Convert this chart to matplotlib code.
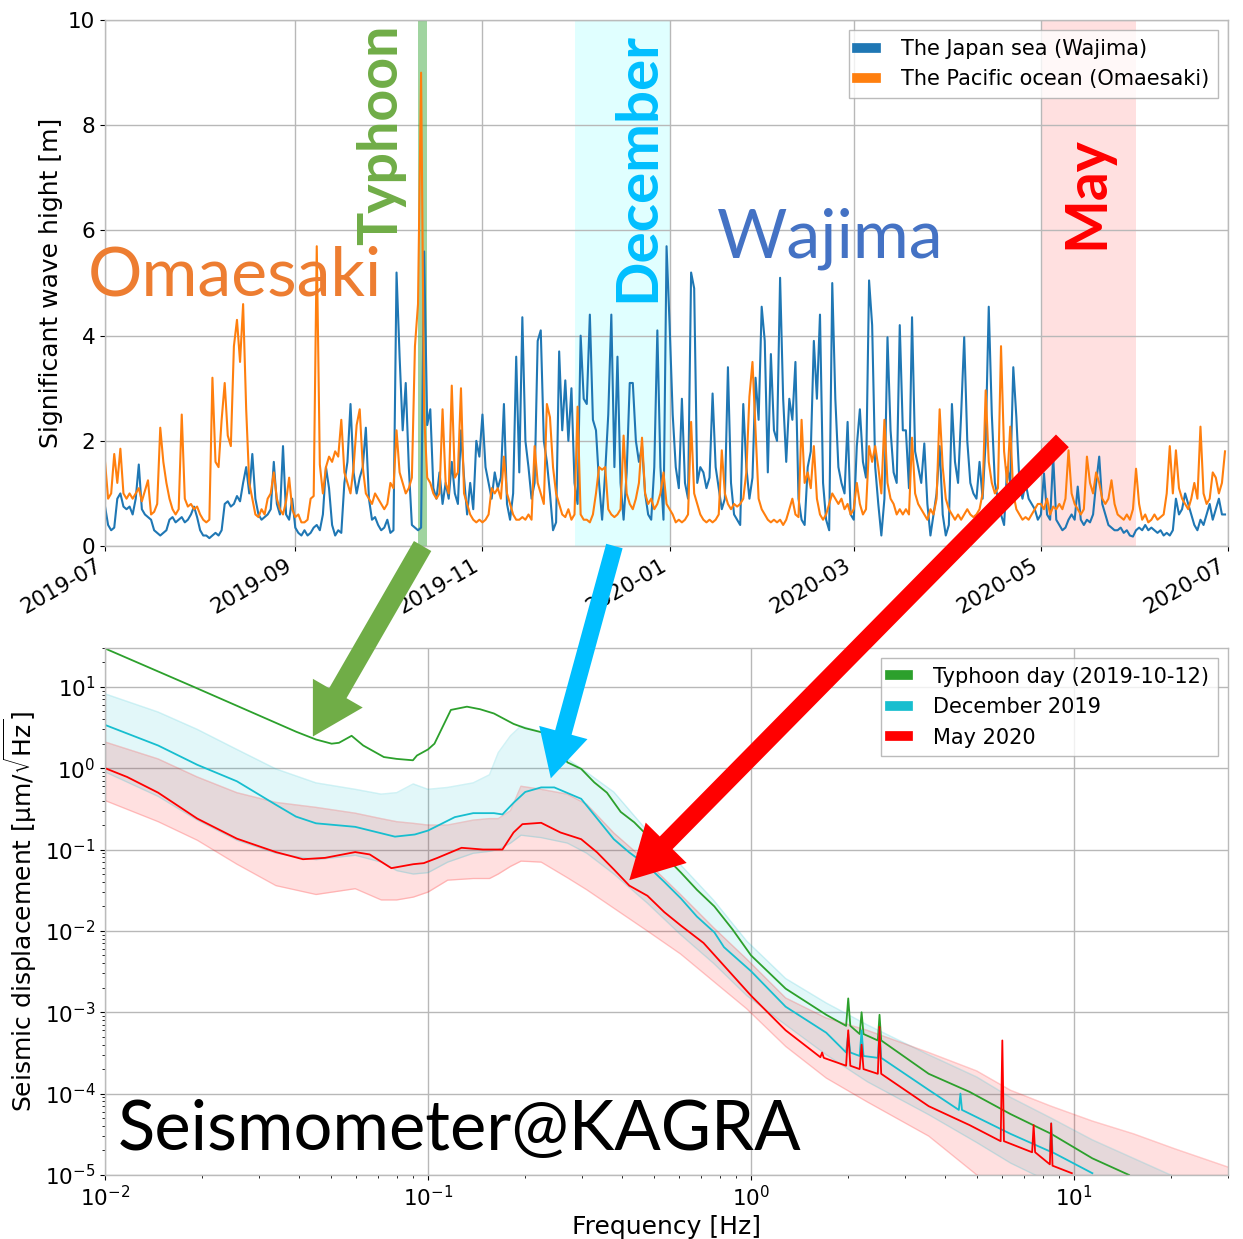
import matplotlib
matplotlib.use("Agg")
import matplotlib.pyplot as plt
import matplotlib.dates as mdates
from matplotlib.patches import FancyArrowPatch
import pandas as pd

plt.rcParams.update({
    "font.family": "DejaVu Sans",
    "font.size": 15,
    "axes.edgecolor": "#bbbbbb",
    "axes.linewidth": 1.0,
    "grid.color": "#b8b8b8",
    "grid.linewidth": 1.0,
    "xtick.labelsize": 15.5,
    "ytick.labelsize": 15.5,
    "axes.labelsize": 18,
    "legend.fontsize": 15,
})

OVERLAY_FONT = ["Lato", "DejaVu Sans"]

# ---------------------------------------------------------------------------
# Daily significant wave height [m], 2019-07-01 .. 2020-06-30
# ---------------------------------------------------------------------------
wajima_jul = [0.75, 0.4, 0.3, 0.35, 0.9, 1.0, 0.75, 0.7, 0.75, 0.6, 0.9, 1.55, 0.7, 0.6, 0.55, 0.5,
              0.3, 0.25, 0.2, 0.25, 0.3, 0.5, 0.55, 0.45, 0.5, 0.55, 0.45, 0.5, 0.6, 0.75, 0.55]
wajima_aug = [0.3, 0.2, 0.2, 0.15, 0.2, 0.25, 0.2, 0.3, 0.8, 0.85, 0.75, 0.8, 0.95, 0.85, 1.2, 1.5,
              1.0, 1.75, 0.9, 0.6, 0.5, 0.55, 0.6, 0.7, 1.6, 0.8, 0.6, 1.9, 0.6, 0.5, 0.9]
wajima_sep = [0.35, 0.25, 0.2, 0.3, 0.2, 0.25, 0.35, 0.4, 0.3, 0.6, 1.5, 1.1, 0.4, 0.2, 0.3,
              0.25, 1.2, 1.6, 2.7, 1.4, 1.0, 1.3, 1.5, 2.25, 0.9, 0.5, 0.55, 0.4, 0.3, 0.35]
wajima_oct = [0.5, 0.25, 0.3, 5.2, 3.6, 2.2, 3.1, 1.5, 0.4, 0.35, 0.3, 0.35, 5.6, 2.3, 2.6, 1.1,
              0.9, 1.4, 0.8, 1.2, 0.9, 1.6, 1.0, 0.8, 2.2, 1.3, 0.6, 1.2, 0.7, 2.0, 1.7]
wajima_nov = [2.5, 1.5, 1.2, 0.9, 1.4, 1.1, 1.3, 2.7, 0.8, 0.5, 1.0, 3.6, 1.4, 4.35, 2.0,
              1.5, 0.9, 1.2, 3.9, 4.1, 2.0, 1.6, 1.0, 0.3, 0.45, 3.7, 2.2, 3.15, 2.0, 3.0]
wajima_dec = [1.2, 0.8, 4.0, 2.8, 2.7, 4.4, 2.4, 2.2, 1.2, 0.5, 1.4, 2.5, 4.4, 1.5, 3.6, 1.2,
              0.5, 1.4, 3.1, 3.1, 2.0, 1.6, 1.9, 1.0, 0.6, 0.5, 1.5, 4.1, 1.5, 0.5, 5.7]
wajima_jan = [4.2, 2.5, 1.5, 1.1, 2.8, 1.2, 0.9, 5.2, 4.9, 1.2, 1.5, 1.4, 1.1, 1.3, 2.9, 1.5,
              1.1, 0.7, 0.9, 3.4, 1.2, 0.6, 0.5, 0.4, 2.7, 1.5, 0.9, 1.3, 3.2, 2.4, 4.55]
wajima_feb = [3.9, 1.4, 3.65, 2.2, 2.0, 5.1, 2.8, 1.6, 2.8, 2.4, 3.5, 0.9, 0.5, 0.4, 1.5,
              1.8, 3.9, 2.8, 4.4, 1.2, 0.5, 0.3, 5.0, 2.8, 1.5, 1.2, 1.0, 2.36, 0.6]
wajima_mar = [0.5, 1.9, 2.6, 1.6, 1.3, 5.05, 4.2, 1.5, 0.8, 0.2, 0.9, 3.97, 2.2, 1.4, 1.2, 4.2,
              2.2, 2.2, 1.1, 4.35, 1.8, 1.5, 1.2, 1.95, 0.8, 0.2, 0.6, 1.0, 1.9, 0.6, 0.2]
wajima_apr = [0.4, 2.7, 1.6, 1.2, 2.5, 3.97, 2.0, 1.2, 1.0, 0.9, 1.6, 0.9, 2.0, 4.55, 2.5,
              1.2, 0.9, 0.6, 0.4, 1.5, 1.2, 3.4, 2.45, 1.2, 0.9, 1.2, 0.9, 0.8, 0.7, 0.5]
wajima_may = [0.6, 1.38, 0.6, 0.5, 1.7, 0.5, 0.4, 0.3, 0.35, 0.5, 0.6, 0.5, 1.13, 0.5, 0.4, 0.5,
              0.45, 0.6, 1.2, 1.7, 0.8, 0.6, 0.4, 0.35, 0.3, 0.3, 0.35, 0.25, 0.3, 0.2, 0.18]
wajima_jun = [0.3, 0.35, 0.3, 0.4, 0.3, 0.35, 0.3, 0.25, 0.3, 0.2, 0.25, 0.2, 0.3, 0.9, 0.6,
              0.7, 1.0, 0.8, 0.6, 0.4, 0.3, 0.5, 0.4, 0.6, 0.8, 0.5, 0.7, 0.9, 0.6, 0.6]

omaesaki_jul = [1.6, 0.9, 1.0, 1.75, 1.2, 1.85, 1.0, 0.9, 1.0, 0.9, 1.0, 1.1, 0.85, 1.05, 1.25, 0.6,
                0.65, 0.8, 2.25, 1.6, 1.2, 0.9, 0.7, 0.6, 0.7, 2.5, 0.9, 0.75, 0.8, 0.7, 0.75]
omaesaki_aug = [0.6, 0.5, 0.45, 0.5, 3.2, 1.6, 1.5, 2.4, 3.1, 2.1, 1.9, 3.8, 4.3, 3.5, 4.6, 2.6,
                1.2, 0.9, 0.6, 0.55, 0.7, 0.6, 0.9, 1.0, 1.4, 0.9, 0.7, 0.6, 0.85, 1.3, 0.7]
omaesaki_sep = [0.55, 0.6, 0.45, 0.45, 0.5, 0.9, 0.95, 5.7, 1.55, 1.0, 1.5, 1.7, 1.6, 1.8, 1.7,
                2.4, 1.4, 1.2, 1.0, 1.5, 2.3, 2.6, 1.5, 1.0, 0.9, 0.8, 1.0, 0.9, 0.8, 0.7]
omaesaki_oct = [0.8, 1.2, 1.1, 2.2, 1.4, 1.2, 1.0, 1.1, 1.3, 3.8, 4.6, 9.0, 2.5, 1.3, 1.2, 1.0,
                0.9, 1.0, 2.6, 1.2, 1.0, 3.05, 1.3, 1.4, 3.0, 1.0, 0.8, 0.6, 0.5, 0.45, 0.5]
omaesaki_nov = [0.45, 0.5, 0.6, 1.1, 1.0, 1.1, 0.9, 1.7, 1.0, 0.8, 0.6, 0.5, 0.5, 0.55, 0.5,
                0.6, 0.5, 1.9, 1.2, 1.0, 0.8, 2.7, 2.45, 1.5, 1.0, 0.8, 0.6, 0.55, 0.7, 0.5]
omaesaki_dec = [0.6, 2.65, 0.6, 0.5, 0.5, 0.45, 0.6, 1.0, 1.5, 1.45, 1.5, 0.7, 0.6, 0.55, 0.6, 0.7,
                2.1, 1.0, 0.8, 0.7, 0.9, 1.2, 2.06, 1.0, 0.8, 0.9, 0.7, 0.8, 1.0, 1.4, 0.8]
omaesaki_jan = [0.7, 0.6, 0.45, 0.5, 0.45, 0.5, 0.6, 2.36, 1.0, 0.8, 0.6, 0.5, 0.45, 0.5, 0.45, 0.5,
                0.6, 1.82, 1.0, 0.8, 0.7, 0.8, 0.75, 0.8, 0.9, 1.4, 2.84, 3.5, 2.2, 0.9, 0.7]
omaesaki_feb = [0.6, 0.5, 0.45, 0.5, 0.45, 0.5, 0.4, 0.5, 0.7, 0.9, 0.6, 0.55, 2.4, 1.2, 1.4,
                1.1, 1.9, 0.9, 0.6, 0.5, 0.6, 0.8, 1.0, 0.9, 0.8, 0.9, 0.7, 0.8, 0.6]
omaesaki_mar = [0.7, 1.2, 0.8, 0.6, 0.7, 1.9, 1.6, 1.9, 1.5, 1.0, 2.4, 1.2, 0.9, 0.8, 0.6, 0.7,
                0.6, 0.7, 0.6, 2.06, 1.0, 0.8, 0.7, 0.6, 0.5, 0.7, 0.6, 0.9, 2.6, 1.5, 0.9]
omaesaki_apr = [0.7, 0.6, 0.5, 0.6, 0.5, 0.6, 0.7, 0.6, 0.55, 0.6, 0.7, 1.0, 2.96, 1.6, 1.2,
                1.0, 1.1, 3.8, 1.8, 1.2, 2.27, 1.0, 0.7, 0.6, 0.5, 0.55, 0.5, 0.6, 0.7, 0.8]
omaesaki_may = [0.8, 0.7, 0.9, 0.6, 0.75, 0.7, 0.8, 0.7, 0.9, 1.82, 1.0, 0.8, 0.7, 0.6, 0.7, 1.7,
                1.2, 1.0, 1.4, 1.2, 0.9, 0.8, 0.9, 1.25, 0.8, 0.6, 0.55, 0.5, 0.6, 0.5, 0.7]
omaesaki_jun = [1.47, 0.8, 0.5, 0.6, 0.45, 0.5, 0.6, 0.5, 0.55, 0.6, 1.0, 1.9, 1.0, 1.82, 1.1,
                0.9, 0.8, 0.7, 0.9, 1.2, 0.9, 2.27, 1.0, 0.8, 0.9, 1.4, 1.3, 1.0, 1.2, 1.8]

wajima = (wajima_jul + wajima_aug + wajima_sep + wajima_oct + wajima_nov + wajima_dec
          + wajima_jan + wajima_feb + wajima_mar + wajima_apr + wajima_may + wajima_jun)
omaesaki = (omaesaki_jul + omaesaki_aug + omaesaki_sep + omaesaki_oct + omaesaki_nov + omaesaki_dec
            + omaesaki_jan + omaesaki_feb + omaesaki_mar + omaesaki_apr + omaesaki_may + omaesaki_jun)
dates = pd.date_range("2019-07-01", periods=len(wajima), freq="D")

# highlighted periods
typhoon_span = ("2019-10-11", "2019-10-14")
december_span = ("2019-12-01", "2020-01-01")
may_span = ("2020-05-01", "2020-06-01")

# ---------------------------------------------------------------------------
# Seismometer ASD [um/rtHz]
# ---------------------------------------------------------------------------
freq_typhoon = [0.010, 0.0188, 0.0391, 0.045, 0.0503, 0.053, 0.058, 0.063, 0.073, 0.080, 0.0898,
                0.0924, 0.100, 0.1047, 0.1177, 0.132, 0.145, 0.160, 0.184, 0.200, 0.224, 0.246,
                0.270, 0.298, 0.327, 0.358, 0.395, 0.435, 0.478, 0.539, 0.607, 0.68, 0.77, 0.877,
                1.0, 1.28, 1.71, 1.97, 2.0, 2.03, 2.17, 2.2, 2.23, 2.47, 2.5, 2.53, 3.55, 4.75,
                6.36, 8.5, 11.4, 14.8]
asd_typhoon = [29.6, 10.0, 2.8, 2.25, 2.0, 2.05, 2.5, 1.9, 1.37, 1.3, 1.25,
               1.43, 1.7, 2.0, 5.2, 5.7, 5.3, 4.7, 3.5, 3.1, 2.77, 2.3,
               1.18, 0.98, 0.67, 0.50, 0.29, 0.216, 0.148, 0.084, 0.052, 0.032, 0.020, 0.0104,
               0.005, 0.00195, 0.00093, 6.8e-4, 1.48e-3, 6.8e-4, 5.4e-4, 1.0e-3, 5.4e-4, 4.5e-4,
               9.3e-4, 4.5e-4, 1.75e-4, 1.05e-4, 5.6e-5, 3.2e-5, 1.6e-5, 1.0e-5]

freq_dec = [0.010, 0.0146, 0.0193, 0.0256, 0.0338, 0.039, 0.045, 0.0595, 0.079, 0.091, 0.100,
            0.121, 0.138, 0.160, 0.170, 0.184, 0.200, 0.224, 0.246, 0.298, 0.334, 0.376, 0.42,
            0.478, 0.539, 0.607, 0.68, 0.77, 0.825, 1.0, 1.28, 1.71, 1.97, 2.0, 2.03, 2.17, 2.2,
            2.23, 2.47, 2.5, 2.53, 3.55, 4.4, 4.45, 4.5, 6.36, 8.42, 8.5, 8.58, 11.4]
asd_dec = [3.4, 1.9, 1.1, 0.69, 0.355, 0.254, 0.21, 0.19, 0.144, 0.153, 0.171,
           0.25, 0.28, 0.28, 0.27, 0.375, 0.51, 0.58, 0.58, 0.42, 0.24, 0.134, 0.092,
           0.063, 0.04, 0.025, 0.015, 0.0096, 0.0063, 0.0032, 0.00117, 0.00056, 3.2e-4, 5.4e-4,
           3.2e-4, 2.9e-4, 6.0e-4, 2.9e-4, 2.75e-4, 6.3e-4, 2.75e-4, 1.11e-4, 6.3e-5, 1.0e-4,
           6.3e-5, 3.2e-5, 1.95e-5, 4.3e-5, 1.9e-5, 1.05e-5]

freq_may = [0.010, 0.0117, 0.0146, 0.0193, 0.0256, 0.0338, 0.041, 0.048, 0.0595, 0.066, 0.077,
            0.090, 0.097, 0.107, 0.127, 0.148, 0.170, 0.184, 0.196, 0.224, 0.257, 0.298, 0.334,
            0.376, 0.42, 0.478, 0.539, 0.607, 0.713, 1.0, 1.28, 1.64, 1.66, 1.68, 1.97, 2.0, 2.03,
            2.17, 2.2, 2.23, 2.47, 2.5, 2.53, 3.55, 4.75, 5.93, 6.0, 6.07, 7.42, 7.5, 7.58, 8.42,
            8.5, 8.58, 9.85]
asd_may = [1.0, 0.78, 0.5, 0.24, 0.136, 0.093, 0.076, 0.079, 0.093, 0.087, 0.059,
           0.066, 0.068, 0.079, 0.105, 0.10, 0.10, 0.162, 0.205, 0.213, 0.162, 0.134, 0.092,
           0.057, 0.036, 0.027, 0.017, 0.0116, 0.0071, 0.0016, 0.0006, 2.8e-4, 3.2e-4, 2.75e-4,
           2.2e-4, 6.0e-4, 2.2e-4, 2.0e-4, 4.0e-4, 2.0e-4, 1.75e-4, 6.6e-4, 1.75e-4, 7e-5, 4.1e-5,
           2.6e-5, 4.5e-4, 2.6e-5, 1.9e-5, 4.1e-5, 1.9e-5, 1.35e-5, 4.3e-5, 1.3e-5, 1.05e-5]

# monthly spread (upper / lower envelope)
freq_band = [0.010, 0.0146, 0.0193, 0.0256, 0.0338, 0.045, 0.0595, 0.0716, 0.080, 0.090, 0.100,
             0.115, 0.138, 0.155, 0.165, 0.180, 0.194, 0.224, 0.27, 0.31, 0.376, 0.477, 0.605,
             0.765, 0.97, 1.28, 1.71, 2.29, 3.55, 5.0, 6.36, 8.5, 11.4, 15.3, 20.5, 30.0]
dec_upper = [8.2, 4.9, 3.0, 1.7, 0.98, 0.66, 0.55, 0.48, 0.5, 0.64, 0.55,
             0.58, 0.66, 0.83, 1.55, 2.5, 3.3, 2.8, 1.3, 0.89, 0.51, 0.17, 0.065,
             0.024, 0.0075, 0.0026, 0.0013, 0.0007, 0.0003, 0.00016, 9e-5, 5e-5, 2.7e-5, 1.6e-5,
             9.5e-6, 5e-6]
dec_lower = [0.9, 0.45, 0.23, 0.13, 0.09, 0.075, 0.085, 0.07, 0.055, 0.05, 0.052,
             0.07, 0.09, 0.095, 0.1, 0.12, 0.15, 0.14, 0.12, 0.09, 0.05, 0.022, 0.009,
             0.004, 0.0016, 0.0007, 0.0003, 0.00014, 5.5e-5, 2.5e-5, 1.4e-5, 8e-6, 5e-6, 4e-6,
             3e-6, 2e-6]
may_upper = [2.1, 1.3, 0.78, 0.5, 0.38, 0.33, 0.28, 0.24, 0.22, 0.21, 0.2,
             0.2, 0.23, 0.24, 0.24, 0.3, 0.6, 0.55, 0.48, 0.36, 0.16, 0.07, 0.028,
             0.011, 0.0045, 0.0015, 0.00085, 0.0006, 0.00032, 0.00019, 0.00011, 7e-5, 4.6e-5,
             3.2e-5, 2.1e-5, 1.25e-5]
may_lower = [0.40, 0.22, 0.13, 0.066, 0.036, 0.028, 0.033, 0.024, 0.024, 0.026, 0.03,
             0.042, 0.044, 0.044, 0.05, 0.062, 0.072, 0.07, 0.045, 0.032, 0.019, 0.01, 0.0052,
             0.0024, 0.0011, 0.00038, 0.000155, 7.9e-5, 3e-5, 1e-5, 6e-6, 4e-6, 3e-6, 2e-6,
             1.5e-6, 1e-6]

C_WAJIMA = "#1f77b4"
C_OMAESAKI = "#ff7f0e"
C_TYPHOON = "#2ca02c"
C_DEC = "#17becf"
C_MAY = "red"

fig = plt.figure(figsize=(12.43, 12.39), dpi=100)
ax1 = fig.add_axes([0.0845, 0.5593, 0.9035, 0.4245])
ax2 = fig.add_axes([0.0845, 0.0517, 0.9035, 0.4253])

# ---------------------------------------------------------------------------
# Wave height time series
# ---------------------------------------------------------------------------
ax1.set_axisbelow(True)
ax1.plot(dates, wajima, color=C_WAJIMA, lw=1.5, label="The Japan sea (Wajima)", zorder=2)
ax1.plot(dates, omaesaki, color=C_OMAESAKI, lw=1.5, label="The Pacific ocean (Omaesaki)", zorder=2)
ax1.axvspan(pd.Timestamp(typhoon_span[0]), pd.Timestamp(typhoon_span[1]),
            color=C_TYPHOON, alpha=0.45, lw=0, zorder=1)
ax1.axvspan(pd.Timestamp(december_span[0]), pd.Timestamp(december_span[1]),
            color="#e0ffff", lw=0, zorder=0.5)
ax1.axvspan(pd.Timestamp(may_span[0]), pd.Timestamp(may_span[1]),
            color="red", alpha=0.12, lw=0, zorder=0.5)

ax1.set_xlim(pd.Timestamp("2019-07-01"), pd.Timestamp("2020-07-01"))
ax1.set_ylim(0, 10)
ax1.set_yticks([0, 2, 4, 6, 8, 10])
ax1.xaxis.set_major_locator(mdates.MonthLocator(bymonth=[1, 3, 5, 7, 9, 11]))
ax1.xaxis.set_major_formatter(mdates.DateFormatter("%Y-%m"))
plt.setp(ax1.get_xticklabels(), rotation=30, ha="right")
ax1.set_ylabel("Significant wave hight [m]")
ax1.grid(True)

leg1 = ax1.legend(loc="upper right", handlelength=0.9, handletextpad=1.2,
                  fancybox=False, edgecolor="#aaaaaa")
for line in leg1.get_lines():
    line.set_linewidth(7)

ax1.text(-0.015, 0.477, "Omaesaki", transform=ax1.transAxes, color="#ed7d31",
         fontsize=49, family=OVERLAY_FONT, ha="left", va="baseline", zorder=5)
ax1.text(0.545, 0.548, "Wajima", transform=ax1.transAxes, color="#4472c4",
         fontsize=49, family=OVERLAY_FONT, ha="left", va="baseline", zorder=5)
ax1.text(0.26, 0.572, "Typhoon", transform=ax1.transAxes, color="#70ad47", rotation=90,
         rotation_mode="anchor", fontsize=40, fontweight="bold", family=OVERLAY_FONT,
         ha="left", va="baseline", zorder=5)
ax1.text(0.489, 0.464, "December", transform=ax1.transAxes, color="#00bfff", rotation=90,
         rotation_mode="anchor", fontsize=42, fontweight="bold", family=OVERLAY_FONT,
         ha="left", va="baseline", zorder=5)
ax1.text(0.889, 0.565, "May", transform=ax1.transAxes, color="#ff0000", rotation=90,
         rotation_mode="anchor", fontsize=41, fontweight="bold", family=OVERLAY_FONT,
         ha="left", va="baseline", zorder=5)

# ---------------------------------------------------------------------------
# Seismometer spectra
# ---------------------------------------------------------------------------
ax2.set_axisbelow(True)
ax2.set_xscale("log")
ax2.set_yscale("log")
ax2.fill_between(freq_band, dec_lower, dec_upper, color=C_DEC, alpha=0.12, lw=0)
ax2.plot(freq_band, dec_upper, color=C_DEC, alpha=0.2, lw=1)
ax2.plot(freq_band, dec_lower, color=C_DEC, alpha=0.2, lw=1)
ax2.fill_between(freq_band, may_lower, may_upper, color=C_MAY, alpha=0.12, lw=0)
ax2.plot(freq_band, may_upper, color=C_MAY, alpha=0.2, lw=1)
ax2.plot(freq_band, may_lower, color=C_MAY, alpha=0.2, lw=1)

ax2.plot(freq_typhoon, asd_typhoon, color=C_TYPHOON, lw=1.3, label="Typhoon day (2019-10-12)")
ax2.plot(freq_dec, asd_dec, color=C_DEC, lw=1.3, label="December 2019")
ax2.plot(freq_may, asd_may, color=C_MAY, lw=1.3, label="May 2020")

ax2.set_xlim(0.01, 30)
ax2.set_ylim(1e-5, 30)
ax2.set_xlabel("Frequency [Hz]")
ax2.set_ylabel("Seismic displacement [µm/$\\sqrt{\\mathrm{Hz}}$]")
ax2.grid(True, which="major")

leg2 = ax2.legend(loc="upper right", handlelength=0.9, handletextpad=1.2,
                  fancybox=False, edgecolor="#aaaaaa")
for line in leg2.get_lines():
    line.set_linewidth(7)
    line.set_alpha(1)

ax2.text(0.0116, 0.047, "Seismometer@KAGRA", transform=ax2.transAxes, color="black",
         fontsize=49.5, family=OVERLAY_FONT, ha="left", va="baseline", zorder=5)

# ---------------------------------------------------------------------------
# Arrows from each highlighted period to its spectrum
# ---------------------------------------------------------------------------
to_fig = fig.transFigure.inverted()


def link_arrow(date, height, freq, asd, color, tail=0.38, head_w=1.0, head_l=0.9):
    start = ax1.transData.transform((mdates.date2num(pd.Timestamp(date)), height))
    end = ax2.transData.transform((freq, asd))
    arrow = FancyArrowPatch(
        to_fig.transform(start), to_fig.transform(end), transform=fig.transFigure,
        arrowstyle=f"simple,head_length={head_l},head_width={head_w},tail_width={tail}",
        mutation_scale=36, facecolor=color, edgecolor=color, linewidth=0,
        shrinkA=0, shrinkB=0, zorder=10, clip_on=False,
    )
    fig.add_artist(arrow)


link_arrow("2019-10-12 12:00", 0, 0.044, 2.45, "#70ad47", tail=0.4, head_w=1.15, head_l=1.0)
link_arrow("2019-12-14", 0, 0.24, 0.75, "#00bfff", tail=0.34, head_w=1.0, head_l=0.95)
link_arrow("2020-05-08", 2.0, 0.42, 0.042, "#ff0000", tail=0.36, head_w=1.15, head_l=1.05)

fig.savefig("out.png", dpi=100)
